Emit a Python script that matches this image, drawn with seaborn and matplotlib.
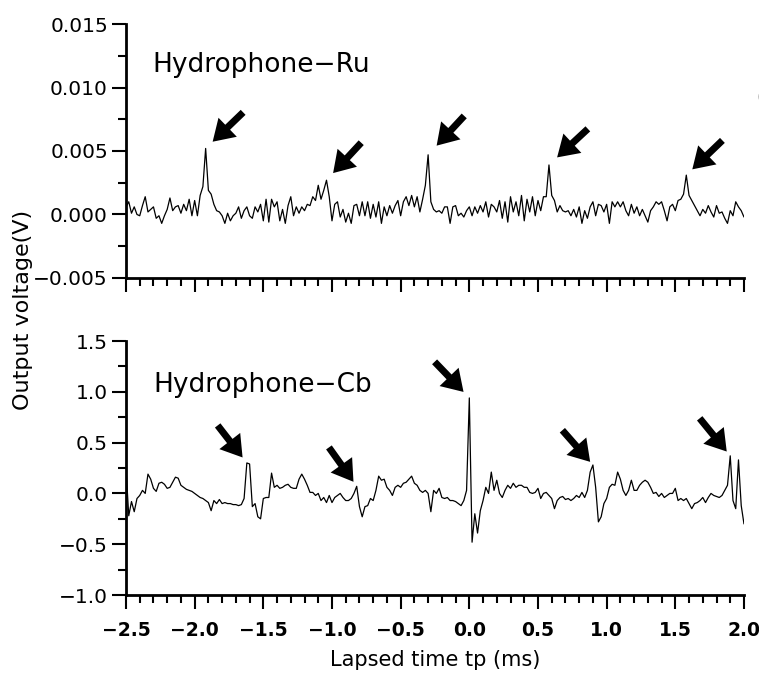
import numpy as np
import matplotlib
matplotlib.use("Agg")
import matplotlib.pyplot as plt
import seaborn as sns
from matplotlib.ticker import MultipleLocator

# sampled signals, one value every 0.02 ms from -2.5 to 2.0 ms
time_ms = np.round(np.linspace(-2.5, 2.0, 226), 2)

ru_volt = [
    0.0006, 0.0010, 0.0001, 0.0006, 0.0000, -0.0001, 0.0007, 0.0014, 0.0002, 0.0004,
    0.0006, -0.0003, -0.0001, -0.0007, -0.0001, 0.0004, 0.0013, 0.0003, 0.0006, 0.0007,
    0.0001, 0.0008, 0.0003, 0.0012, -0.0001, 0.0011, -0.0001, 0.0015, 0.0022, 0.0052,
    0.0019, 0.0016, 0.0008, 0.0003, 0.0002, -0.0001, -0.0007, 0.0001, -0.0005, -0.0001,
    0.0001, 0.0006, -0.0003, 0.0003, 0.0006, -0.0001, -0.0003, 0.0006, 0.0002, 0.0008,
    -0.0005, 0.0012, -0.0006, 0.0012, 0.0006, 0.0010, -0.0005, 0.0004, -0.0007, 0.0007,
    0.0014, -0.0001, 0.0006, 0.0001, 0.0006, 0.0003, 0.0008, 0.0007, 0.0014, 0.0011,
    0.0023, 0.0012, 0.0019, 0.0027, 0.0014, -0.0005, 0.0008, 0.0010, -0.0002, 0.0004,
    -0.0006, 0.0001, -0.0007, 0.0007, 0.0008, -0.0001, 0.0010, -0.0001, 0.0010, -0.0003,
    0.0008, -0.0002, 0.0010, -0.0007, 0.0006, -0.0001, 0.0007, 0.0001, 0.0007, 0.0011,
    -0.0001, 0.0010, 0.0014, 0.0007, 0.0015, 0.0006, 0.0014, 0.0002, 0.0012, 0.0023,
    0.0047, 0.0010, 0.0004, 0.0002, 0.0003, 0.0001, 0.0006, 0.0006, -0.0007, 0.0006,
    0.0007, -0.0001, 0.0001, -0.0002, 0.0003, 0.0006, -0.0001, 0.0006, 0.0001, 0.0007,
    0.0002, 0.0010, -0.0002, 0.0008, 0.0006, 0.0002, 0.0011, -0.0003, 0.0010, -0.0006,
    0.0014, 0.0002, 0.0010, -0.0001, 0.0015, -0.0005, 0.0012, 0.0002, 0.0014, -0.0001,
    0.0011, 0.0003, 0.0014, 0.0014, 0.0039, 0.0015, 0.0011, 0.0002, 0.0007, 0.0003,
    0.0002, 0.0003, -0.0001, 0.0004, -0.0002, 0.0006, -0.0007, 0.0003, -0.0003, 0.0006,
    0.0010, -0.0001, 0.0008, 0.0007, 0.0002, 0.0008, -0.0007, 0.0010, 0.0006, 0.0010,
    0.0006, 0.0010, 0.0003, -0.0001, 0.0008, 0.0001, 0.0006, -0.0001, 0.0004, -0.0001,
    -0.0006, 0.0003, 0.0006, 0.0010, 0.0008, 0.0010, 0.0003, -0.0005, 0.0006, 0.0008,
    0.0003, 0.0011, 0.0012, 0.0016, 0.0031, 0.0015, 0.0011, 0.0007, 0.0003, -0.0001,
    0.0004, 0.0001, 0.0007, 0.0002, -0.0002, 0.0007, 0.0001, 0.0002, -0.0003, -0.0007,
    0.0003, -0.0001, 0.0010, 0.0006, 0.0003, -0.0002,
]

cb_volt = [
    0.25, -0.22, -0.08, -0.18, -0.05, -0.02, 0.03, 0.00, 0.19, 0.14,
    0.05, 0.02, 0.10, 0.11, 0.09, 0.05, 0.06, 0.11, 0.16, 0.15,
    0.08, 0.06, 0.04, 0.03, 0.02, 0.00, -0.02, -0.04, -0.05, -0.07,
    -0.09, -0.17, -0.07, -0.10, -0.06, -0.10, -0.09, -0.10, -0.10, -0.11,
    -0.11, -0.12, -0.11, -0.05, 0.30, 0.29, -0.13, -0.10, -0.23, -0.25,
    -0.05, -0.04, -0.04, 0.20, 0.06, 0.08, 0.05, 0.06, 0.08, 0.09,
    0.06, 0.05, 0.05, 0.14, 0.19, 0.14, 0.08, 0.01, 0.01, -0.02,
    0.00, -0.07, -0.04, -0.09, -0.02, -0.09, -0.04, -0.02, 0.00, -0.04,
    -0.07, -0.07, -0.05, 0.00, 0.07, -0.13, -0.23, -0.13, -0.12, -0.05,
    -0.07, 0.03, 0.17, 0.13, 0.14, 0.06, 0.03, -0.02, 0.06, 0.08,
    0.06, 0.10, 0.11, 0.14, 0.17, 0.10, 0.08, 0.03, 0.01, 0.03,
    0.00, -0.18, 0.03, 0.00, 0.05, -0.04, -0.05, -0.04, -0.07, -0.07,
    -0.08, -0.10, -0.12, -0.07, 0.03, 0.94, -0.48, -0.20, -0.39, -0.17,
    -0.07, 0.06, 0.00, 0.21, 0.03, 0.13, 0.00, -0.04, 0.03, 0.08,
    0.05, 0.10, 0.06, 0.08, 0.08, 0.06, 0.06, 0.01, 0.00, 0.01,
    0.05, -0.05, 0.00, 0.01, -0.02, -0.05, -0.15, -0.07, -0.04, -0.03,
    -0.06, -0.05, -0.07, -0.05, -0.02, -0.04, 0.01, -0.04, 0.03, 0.21,
    0.28, 0.06, -0.28, -0.23, -0.10, -0.05, 0.06, 0.09, 0.08, 0.21,
    0.14, 0.03, -0.02, 0.03, 0.13, 0.03, 0.03, 0.08, 0.11, 0.13,
    0.11, 0.06, 0.00, 0.01, -0.03, 0.00, -0.04, -0.02, 0.00, 0.00,
    0.05, -0.07, -0.05, -0.07, -0.05, -0.10, -0.15, -0.10, -0.09, -0.07,
    -0.04, -0.09, -0.04, 0.00, -0.02, -0.03, -0.04, -0.02, 0.03, 0.08,
    0.37, -0.07, -0.15, 0.33, -0.12, -0.30,
]

# times of the pulses marked with arrows
ru_arrow_t = [-1.92, -1.04, -0.30, 0.58, 1.58]
cb_arrow_t = [-1.62, -0.82, 0.00, 0.90, 1.90]

x_ticks = [-2.5, -2.0, -1.5, -1.0, -0.5, 0.0, 0.5, 1.0, 1.5, 2.0]
x_tick_labels = ["\u22122.5", "\u22122.0", "\u22121.5", "\u22121.0", "\u22120.5",
                 "0.0", "0.5", "1.0", "1.5", "2.0"]
ru_yticks = [-0.005, 0.0, 0.005, 0.010, 0.015]
ru_ytick_labels = ["\u22120.005", "0.000", "0.005", "0.010", "0.015"]
cb_yticks = [-1.0, -0.5, 0.0, 0.5, 1.0, 1.5]
cb_ytick_labels = ["\u22121.0", "\u22120.5", "0.0", "0.5", "1.0", "1.5"]

# arrow tail offsets (points) and gap at the tip
ru_arrow_off = [(27, 26), (25, 27), (26, 28), (28, 26), (26, 25)]
ru_arrow_gap = [7, 7, 9, 8, 6]
cb_arrow_off = [(-21, 27), (-20, 28), (-25, 26), (-22, 25), (-22, 27)]
cb_arrow_gap = [5, 4, 6, 3, 4]

sns.set_style("ticks")
plt.rcParams["font.family"] = ["DejaVu Sans"]
plt.rcParams.update({"text.color": "black", "axes.labelcolor": "black",
                     "xtick.color": "black", "ytick.color": "black",
                     "axes.edgecolor": "black"})

fig = plt.figure(figsize=(7.59, 6.84), dpi=100)
ax_top = fig.add_axes([0.166, 0.5936, 0.8142, 0.3713])
ax_bot = fig.add_axes([0.166, 0.1301, 0.8142, 0.3713])


def add_arrow(ax, x, y, off, gap):
    ax.annotate("", xy=(x, y), xytext=off, textcoords="offset points",
                arrowprops=dict(arrowstyle="simple,head_length=1.5,head_width=1.9,tail_width=0.5",
                                mutation_scale=10, fc="black", ec="black", lw=0,
                                shrinkA=0, shrinkB=gap))


for ax, vals in ((ax_top, ru_volt), (ax_bot, cb_volt)):
    sns.lineplot(x=time_ms, y=vals, ax=ax, color="black", linewidth=0.9, estimator=None)
    ax.set_xlim(-2.5, 2.0)
    sns.despine(ax=ax)
    for side in ["left", "bottom"]:
        ax.spines[side].set_linewidth(2)
    ax.set_xticks(x_ticks)
    ax.xaxis.set_minor_locator(MultipleLocator(0.1))
    ax.tick_params(which="major", direction="out", length=10, width=1.5,
                   labelsize=14.5, pad=3)
    ax.tick_params(which="minor", direction="out", length=6, width=1.5)
    ax.set_xlabel("")
    ax.set_ylabel("")

ax_top.set_ylim(-0.005, 0.015)
ax_top.set_yticks(ru_yticks, ru_ytick_labels)
ax_top.yaxis.set_minor_locator(MultipleLocator(0.0025))
ax_top.tick_params(axis="x", labelbottom=False)

ax_bot.set_ylim(-1.0, 1.5)
ax_bot.set_yticks(cb_yticks, cb_ytick_labels)
ax_bot.yaxis.set_minor_locator(MultipleLocator(0.25))
ax_bot.set_xticks(x_ticks, x_tick_labels, fontweight="bold", fontsize=13.5)
ax_bot.tick_params(axis="x", which="major", pad=9)

for t_pk, off, gap in zip(ru_arrow_t, ru_arrow_off, ru_arrow_gap):
    i = int(np.argmin(np.abs(time_ms - t_pk)))
    add_arrow(ax_top, time_ms[i], ru_volt[i], off, gap)
for t_pk, off, gap in zip(cb_arrow_t, cb_arrow_off, cb_arrow_gap):
    i = int(np.argmin(np.abs(time_ms - t_pk)))
    add_arrow(ax_bot, time_ms[i], cb_volt[i], off, gap)

ax_top.text(0.042, 0.839, "Hydrophone\u2212Ru", transform=ax_top.transAxes,
            fontsize=19, va="center", ha="left")
ax_bot.text(0.045, 0.827, "Hydrophone\u2212Cb", transform=ax_bot.transAxes,
            fontsize=19, va="center", ha="left")

fig.text(0.030, 0.547, "Output voltage(V)", rotation=90, va="center", ha="center", fontsize=16)
fig.text(0.573, 0.035, "Lapsed time tp (ms)", va="center", ha="center", fontsize=15)
fig.text(0.996, 0.858, "(a)", va="center", ha="left", fontsize=14, color="#555555")

fig.savefig("out.png", dpi=100)
